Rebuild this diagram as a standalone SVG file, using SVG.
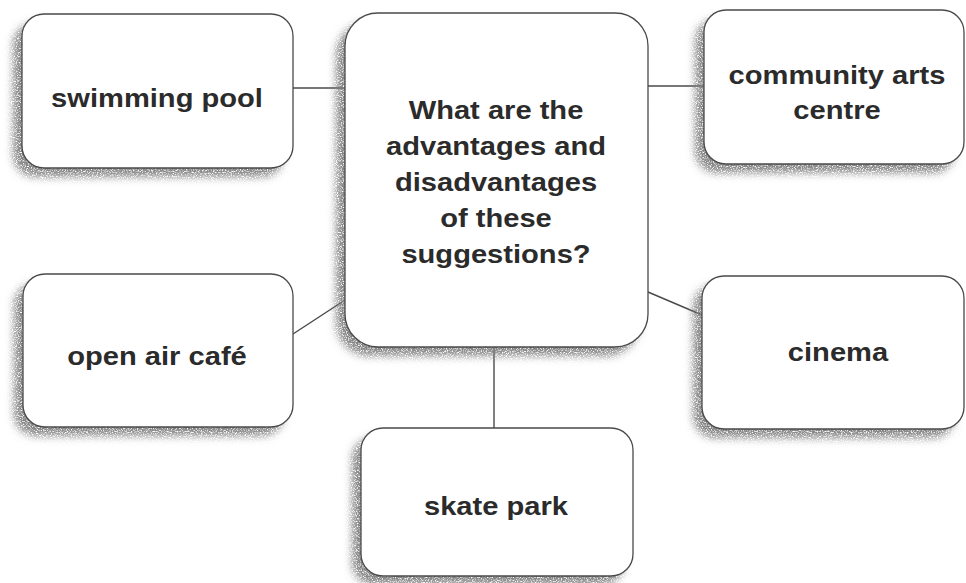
<svg xmlns="http://www.w3.org/2000/svg" width="966" height="583" viewBox="0 0 966 583">
  <defs>
    <!-- speckled drop shadow cast to the lower left of each box -->
    <filter id="grainShadow" x="-15%" y="-15%" width="130%" height="130%">
      <feTurbulence type="fractalNoise" baseFrequency="0.8" numOctaves="2" seed="7" result="noise"/>
      <feColorMatrix in="noise" type="matrix" values="0 0 0 0 0.22  0 0 0 0 0.22  0 0 0 0 0.22  3.2 0 0 0 -0.75" result="speck"/>
      <feGaussianBlur in="SourceAlpha" stdDeviation="4" result="blur"/>
      <feOffset in="blur" dx="-9" dy="9" result="off"/>
      <feComposite in="speck" in2="off" operator="in"/>
    </filter>
  </defs>
  <style>
    .shadow { fill: #000; filter: url(#grainShadow); }
    .box { fill: #ffffff; stroke: #4a4a4a; stroke-width: 1.3; }
    .link { stroke: #4a4a4a; stroke-width: 1.4; fill: none; }
    .label { font-family: "Liberation Sans", Arial, sans-serif; font-weight: bold; font-size: 26px; fill: #2b2b2b; text-anchor: middle; }
  </style>

  <rect width="966" height="583" fill="#ffffff"/>

  <!-- connectors -->
  <g id="connectors">
    <line class="link" x1="293" y1="88" x2="345" y2="88"/>
    <line class="link" x1="648" y1="86" x2="704" y2="86"/>
    <line class="link" x1="293" y1="334" x2="345" y2="300"/>
    <line class="link" x1="648" y1="292" x2="702" y2="315"/>
    <line class="link" x1="494" y1="347" x2="494" y2="428"/>
  </g>

  <!-- centre question -->
  <g id="question">
    <rect class="shadow" x="345" y="13" width="303" height="334" rx="33"/>
    <rect class="box" x="345" y="13" width="303" height="334" rx="33"/>
    <g transform="translate(496,0) scale(1.12,1)">
      <text class="label" x="0" y="119">What are the</text>
      <text class="label" x="0" y="155">advantages and</text>
      <text class="label" x="0" y="191">disadvantages</text>
      <text class="label" x="0" y="227">of these</text>
      <text class="label" x="0" y="263">suggestions?</text>
    </g>
  </g>

  <g id="swimming-pool">
    <rect class="shadow" x="22" y="14" width="271" height="154" rx="22"/>
    <rect class="box" x="22" y="14" width="271" height="154" rx="22"/>
    <g transform="translate(157,0) scale(1.12,1)">
      <text class="label" x="0" y="107">swimming pool</text>
    </g>
  </g>

  <g id="community-arts-centre">
    <rect class="shadow" x="704" y="10" width="260" height="154" rx="22"/>
    <rect class="box" x="704" y="10" width="260" height="154" rx="22"/>
    <g transform="translate(837,0) scale(1.12,1)">
      <text class="label" x="0" y="84">community arts</text>
      <text class="label" x="0" y="119">centre</text>
    </g>
  </g>

  <g id="open-air-cafe">
    <rect class="shadow" x="23" y="274" width="270" height="153" rx="22"/>
    <rect class="box" x="23" y="274" width="270" height="153" rx="22"/>
    <g transform="translate(157,0) scale(1.12,1)">
      <text class="label" x="0" y="365">open air café</text>
    </g>
  </g>

  <g id="cinema">
    <rect class="shadow" x="702" y="276" width="262" height="153" rx="22"/>
    <rect class="box" x="702" y="276" width="262" height="153" rx="22"/>
    <g transform="translate(838,0) scale(1.12,1)">
      <text class="label" x="0" y="361">cinema</text>
    </g>
  </g>

  <g id="skate-park">
    <rect class="shadow" x="361" y="428" width="272" height="148" rx="22"/>
    <rect class="box" x="361" y="428" width="272" height="148" rx="22"/>
    <g transform="translate(496,0) scale(1.12,1)">
      <text class="label" x="0" y="515">skate park</text>
    </g>
  </g>
</svg>
